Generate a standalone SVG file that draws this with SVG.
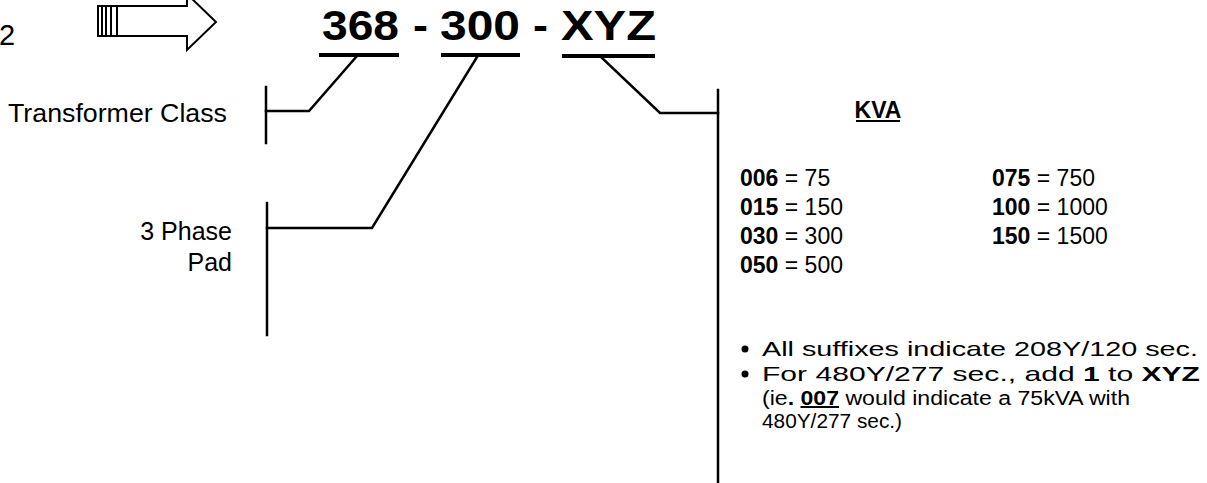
<svg xmlns="http://www.w3.org/2000/svg" width="1207" height="483" viewBox="0 0 1207 483">
<style>
text{font-family:"Liberation Sans",Arial,sans-serif;fill:#000}
.b{font-weight:bold}
.ln{stroke:#000;stroke-width:2.5;fill:none;stroke-linecap:square}
.lbl{font-size:25px}
.row{font-size:23px}
.bul{font-size:21px}
.sm{font-size:20px}
</style>
<rect width="1207" height="483" fill="#fff"/>
<g id="step-number"><text x="-1" y="45" style="font-size:29px">2</text></g>
<g id="arrow" fill="none" stroke="#000" stroke-width="2">
<rect x="98" y="6" width="19" height="30"/>
<line x1="102" y1="6" x2="102" y2="36"/><line x1="106" y1="6" x2="106" y2="36"/><line x1="111" y1="6" x2="111" y2="36"/>
<path d="M117 6 H187 V-6 L216 22 L187 50 V36 H117 Z" fill="#fff"/>
</g>
<g id="part-number" class="b" style="font-size:42px">
<text x="322" y="40" textLength="77" lengthAdjust="spacingAndGlyphs">368</text>
<text x="413" y="40" textLength="15" lengthAdjust="spacingAndGlyphs">-</text>
<text x="440" y="40" textLength="80" lengthAdjust="spacingAndGlyphs">300</text>
<text x="533" y="40" textLength="15" lengthAdjust="spacingAndGlyphs">-</text>
<text x="561" y="40" textLength="95" lengthAdjust="spacingAndGlyphs">XYZ</text>
<rect x="319" y="53" width="80" height="4"/>
<rect x="441" y="53" width="79" height="4"/>
<rect x="562" y="54" width="93" height="4"/>
</g>
<g id="transformer-class"><text class="lbl" x="8" y="122" textLength="219" lengthAdjust="spacingAndGlyphs">Transformer Class</text></g>
<g id="three-phase-pad" class="lbl" text-anchor="end"><text x="232" y="240">3 Phase</text><text x="232" y="271">Pad</text></g>
<g id="kva">
<text class="b" x="878" y="118" text-anchor="middle" style="font-size:23px">KVA</text>
<rect x="856" y="120" width="44" height="2"/>
<g class="row">
<text x="740" y="186"><tspan class="b">006</tspan> = 75</text>
<text x="740" y="215"><tspan class="b">015</tspan> = 150</text>
<text x="740" y="244"><tspan class="b">030</tspan> = 300</text>
<text x="740" y="273"><tspan class="b">050</tspan> = 500</text>
<text x="992" y="186"><tspan class="b">075</tspan> = 750</text>
<text x="992" y="215"><tspan class="b">100</tspan> = 1000</text>
<text x="992" y="244"><tspan class="b">150</tspan> = 1500</text>
</g>
<circle cx="745" cy="349" r="3.5"/>
<circle cx="745" cy="374" r="3.5"/>
<text class="bul" x="762" y="356" textLength="436" lengthAdjust="spacingAndGlyphs">All suffixes indicate 208Y/120 sec.</text>
<text class="bul" x="762" y="381" textLength="438" lengthAdjust="spacingAndGlyphs">For 480Y/277 sec., add <tspan class="b">1</tspan> to <tspan class="b">XYZ</tspan></text>
<text class="sm" x="762" y="405" textLength="368" lengthAdjust="spacingAndGlyphs">(ie<tspan class="b">.</tspan> <tspan class="b" text-decoration="underline">007</tspan> would indicate a 75kVA with</text>
<text class="sm" x="762" y="428" textLength="140" lengthAdjust="spacingAndGlyphs">480Y/277 sec.)</text>
</g>
<g id="connectors" class="ln">
<polyline points="357,56 309,111 266,111"/>
<line x1="266" y1="87" x2="266" y2="143"/>
<polyline points="477,57 372,228 267,228"/>
<line x1="267" y1="203" x2="267" y2="335"/>
<polyline points="602,58 660,113 718,113"/>
<line x1="718" y1="90" x2="718" y2="483"/>
</g>
</svg>
